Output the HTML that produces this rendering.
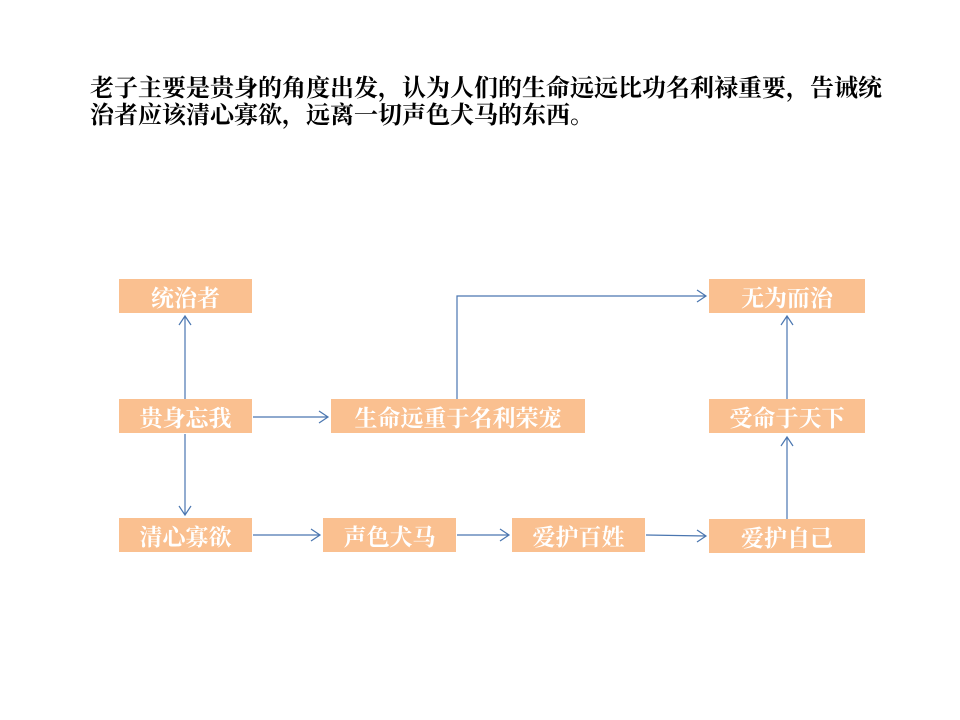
<!DOCTYPE html>
<html><head><meta charset="utf-8"><style>
body{margin:0;background:#fff;width:960px;height:720px;position:relative;overflow:hidden;font-family:"Noto Serif CJK SC","Liberation Serif",serif}
.t{position:absolute;left:90px;top:72px;font-size:24px;line-height:27px;color:#000;width:860px;white-space:nowrap;font-weight:bold;font-family:"Noto Serif CJK SC","Liberation Serif",serif}
.b{position:absolute;background:#fac090;color:#fff;font-size:23px;font-weight:bold;display:flex;align-items:center;justify-content:center;height:34px;font-family:"Noto Serif CJK SC","Liberation Serif",serif}
svg{position:absolute;left:0;top:0}
</style></head><body>
<div class="t">老子主要是贵身的角度出发，认为人们的生命远远比功名利禄重要，告诫统<br>治者应该清心寡欲，远离一切声色犬马的东西。</div>
<svg width="960" height="720"><g stroke="#4a76b0" stroke-width="1.2" fill="none">
<path d="M185 399V316M179 325l6-9 6 9"/>
<path d="M185 434V515M179 506l6 9 6-9"/>
<path d="M253 417H328M319 411l9 6-9 6"/>
<path d="M457 399V296H706M697 290l9 6-9 6"/>
<path d="M253 535H320M311 529l9 6-9 6"/>
<path d="M457 535H509M500 529l9 6-9 6"/>
<path d="M646 535L706 536M697 530l9 6-9 6"/>
<path d="M787 519V437M781 446l6-9 6 9"/>
<path d="M787 399V316M781 325l6-9 6 9"/>
</g></svg>
<div class="b" style="left:119px;top:279px;width:133px">统治者</div>
<div class="b" style="left:119px;top:399px;width:133px">贵身忘我</div>
<div class="b" style="left:331px;top:399px;width:254px">生命远重于名利荣宠</div>
<div class="b" style="left:119px;top:518px;width:133px">清心寡欲</div>
<div class="b" style="left:323px;top:518px;width:133px">声色犬马</div>
<div class="b" style="left:512px;top:518px;width:133px">爱护百姓</div>
<div class="b" style="left:709px;top:519px;width:156px">爱护自己</div>
<div class="b" style="left:709px;top:399px;width:156px">受命于天下</div>
<div class="b" style="left:709px;top:279px;width:156px">无为而治</div>
</body></html>
